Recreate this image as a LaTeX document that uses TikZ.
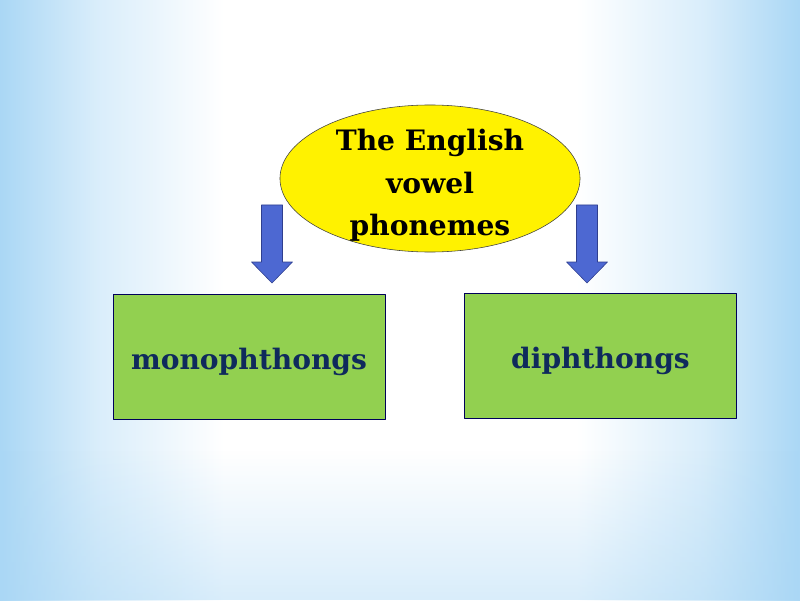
\documentclass[tikz,border=0pt]{standalone}
\usepackage{fontspec}
\setmainfont{DejaVu Serif}
\usetikzlibrary{positioning,calc,shapes.geometric,fadings}
\definecolor{bgblue}{HTML}{AAD7F5}
\definecolor{leafgreen}{HTML}{92D050}
\definecolor{navytext}{HTML}{0F2A5C}
\definecolor{arrowblue}{HTML}{4D68D2}
\definecolor{arrowedge}{HTML}{2F3F8F}
\pgfdeclarehorizontalshading{bgsides}{100bp}{color(0bp)=(bgblue); color(25bp)=(bgblue); color(31bp)=(bgblue!45!white); color(39bp)=(white); color(61bp)=(white); color(69bp)=(bgblue!45!white); color(75bp)=(bgblue); color(100bp)=(bgblue)}
\tikzset{
  topic/.style={ellipse, draw=black!75, thin, fill=yellow, minimum width=7.5cm, minimum height=3.675cm, inner sep=0pt},
  topictext/.style={align=center, inner sep=0pt, font=\fontsize{20}{30.5}\selectfont\bfseries},
  kind/.style={rectangle, draw=black!65!blue, semithick, fill=leafgreen, minimum width=6.8cm, minimum height=3.125cm, text height=19pt, text depth=0pt, text=navytext, font=\fontsize{20}{24}\selectfont\bfseries},
  blockarrow/.style={draw=arrowedge, fill=arrowblue, thin}
}
% block arrow hanging down from a named coordinate
\newcommand\hangarrow[1]{\draw[blockarrow] ($(#1)+(-10.5,0)$) -- ++(0,-57) -- ++(-10,0) -- ($(#1)+(0,-78)$) -- ($(#1)+(20.5,-57)$) -- ++(-10,0) -- ++(0,57) -- cycle;}
\begin{document}
\begin{tikzpicture}[x=0.025cm, y=0.025cm, line join=round]
  \useasboundingbox (0,0) rectangle (800,600);
  \shade[shading=bgsides] (0,0) rectangle (800,600);
  \fill[bgblue, path fading=north, fill opacity=0.45] (0,0) rectangle (800,150);
  \node[topic] (vowels) at (430,421.5) {};
  \node[topictext] (vowels text) at ([yshift=-0.17cm]vowels.center) {The English\\vowel\\phonemes};
  \node[kind] (mono) at (249,243.5) {monophthongs};
  \node[kind] (diph) at (600.5,244.5) {diphthongs};
  \coordinate (to mono) at (272,395);
  \coordinate (to diph) at (587,395);
  \hangarrow{to mono}
  \hangarrow{to diph}
\end{tikzpicture}
\end{document}
